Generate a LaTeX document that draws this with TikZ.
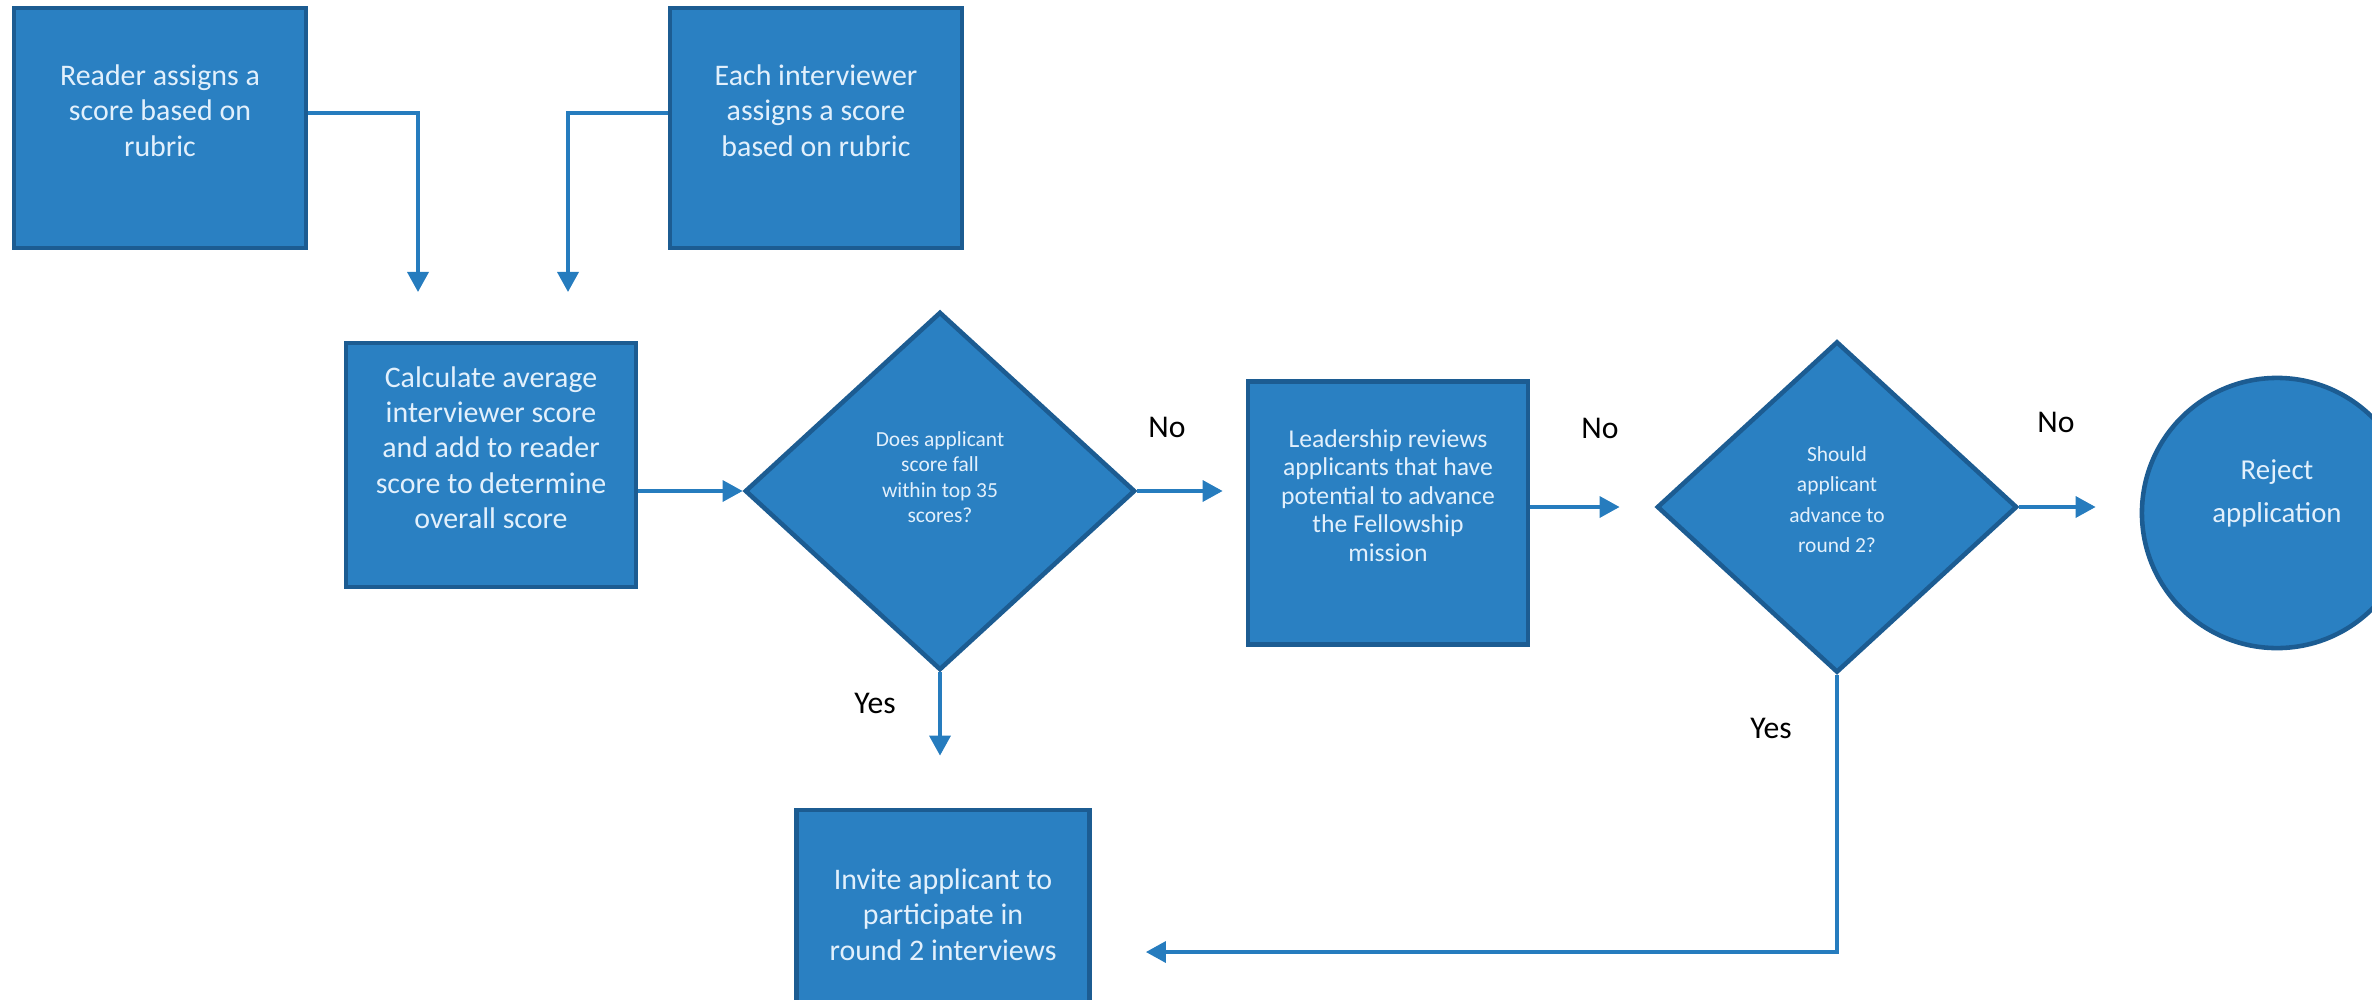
\documentclass[tikz,border=0pt]{standalone}
\usepackage{fontspec}
\setmainfont{Carlito}
\usetikzlibrary{arrows.meta,shapes.geometric,positioning}

\definecolor{boxblue}{RGB}{42,128,194}
\definecolor{rimblue}{RGB}{28,92,146}
\definecolor{inkblue}{RGB}{226,240,252}
\definecolor{lineblue}{RGB}{38,124,190}

\tikzset{
  proc/.style={rectangle,draw=rimblue,fill=boxblue,line width=1.3pt,text=inkblue,
    align=center,inner sep=0pt,text depth=0.35cm,font=\fontsize{8.5}{10}\selectfont},
  query/.style={diamond,draw=rimblue,fill=boxblue,line width=1.3pt,text=inkblue,
    align=center,inner sep=0pt,text depth=0.28cm,font=\fontsize{6.1}{7.2}\selectfont},
  stop/.style={circle,draw=rimblue,fill=boxblue,line width=1.3pt,text=inkblue,
    align=center,inner sep=0pt,text depth=0.44cm,font=\fontsize{8.2}{12}\selectfont},
  answer/.style={font=\fontsize{9}{11}\selectfont}
}

\begin{document}
\begin{tikzpicture}[x=0.01cm,y=-0.01cm,>={Triangle[length=2mm,width=2.1mm]},
    flow/.style={->,draw=lineblue,line width=1pt}]

        \useasboundingbox (0,0) rectangle (2372,1000);
        \clip (0,0) rectangle (2372,1000);

        \node[proc,minimum width=2.92cm,minimum height=2.4cm] (reader) at (160,128) {Reader assigns a\\score based on\\rubric};

        \node[proc,minimum width=2.92cm,minimum height=2.4cm] (inter) at (816,128) {Each interviewer\\assigns a score\\based on rubric};

        \node[proc,minimum width=2.9cm,minimum height=2.44cm] (calc) at (491,465) {Calculate average\\interviewer score\\and add to reader\\score to determine\\overall score};

        \node[query,minimum width=3.9cm,minimum height=3.58cm] (top35) at (940,491) {Does applicant\\score fall\\within top 35\\scores?};

        \node[proc,font=\fontsize{7.3}{8.1}\selectfont,minimum width=2.8cm,minimum height=2.63cm] (lead) at (1388,513) {Leadership reviews\\applicants that have\\potential to advance\\the Fellowship\\mission};

        \node[query,font=\fontsize{6.1}{8.6}\selectfont,text depth=0.15cm,minimum width=3.6cm,minimum height=3.31cm] (round2) at (1837,507) {Should\\applicant\\advance to\\round 2?};

        \node[stop,minimum size=2.7cm] (reject) at (2277,513) {Reject\\application};

        \node[proc,minimum width=2.93cm,minimum height=2.44cm] (invite) at (943,932) {Invite applicant to\\participate in\\round 2 interviews};

        % loose ends of the two score arrows
        \coordinate (rin) at (418,292);
        \coordinate (iin) at (568,292);

        \draw[flow] ([yshift=0.15cm]reader.east) -| (rin);
        \draw[flow] ([yshift=0.15cm]inter.west) -| (iin);
        \draw[flow] (top35.west -| calc.east) -- (top35.west);
        \draw[flow,shorten >=0.23cm] (top35.east) -- (top35.east -| lead.west);
        \draw[flow,shorten >=0.35cm] (round2.west -| lead.east) -- (round2.west);
        \draw[flow,shorten >=0.44cm] (round2.east) -- (round2.east -| reject.west);
        \draw[flow,shorten >=0.52cm] (top35.south) -- (top35.south |- invite.north);
        \draw[flow,shorten >=0.54cm] (round2.south) |- ([yshift=-0.2cm]invite.east);

        \node[answer] (no1) at (1167,427) {No};
        \node[answer] (no2) at (1600,428) {No};
        \node[answer] (no3) at (2056,422) {No};
        \node[answer] (yes1) at (875,703) {Yes};
        \node[answer] (yes2) at (1771,728) {Yes};

\end{tikzpicture}
\end{document}
